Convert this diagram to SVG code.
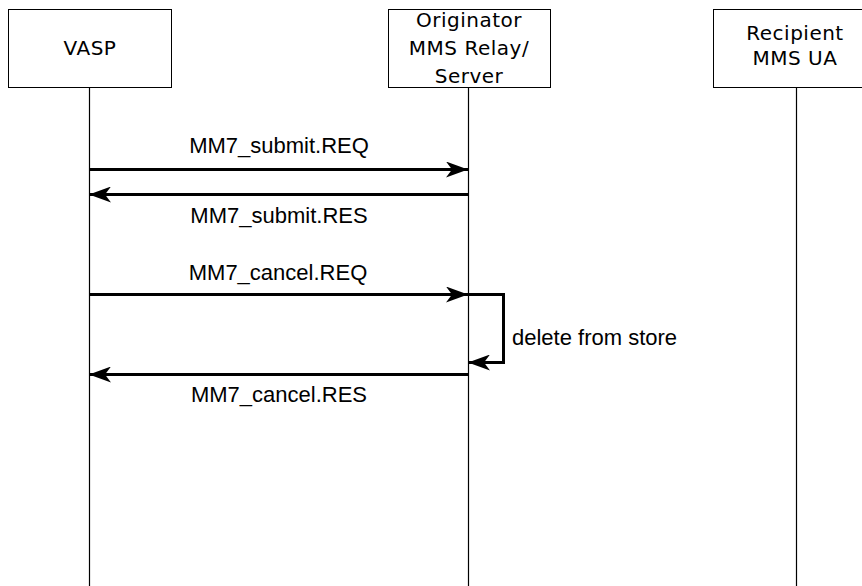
<svg xmlns="http://www.w3.org/2000/svg" width="862" height="586" viewBox="0 0 862 586">
<style>
.box{fill:#fff;stroke:#000;stroke-width:1}
.life{stroke:#000;stroke-width:1.2;fill:none}
.hd{font-family:"DejaVu Sans",sans-serif;font-size:20px;text-anchor:middle;fill:#000;letter-spacing:0.5px}
.msg{stroke:#000;stroke-width:3;fill:none}
.lb{font-family:"Liberation Sans",Arial,sans-serif;font-size:22px;text-anchor:middle;fill:#000}
</style>
<defs>
<marker id="ah" markerWidth="22" markerHeight="16" refX="22" refY="8" orient="auto" markerUnits="userSpaceOnUse">
<path d="M0,0 L22,8 L0,16 L6,8 Z" fill="#000"/>
</marker>
</defs>
<g id="vasp">
<rect class="box" x="8.5" y="9.5" width="163" height="78"/>
<text class="hd" x="90" y="55">VASP</text>
<line class="life" x1="89.5" y1="87.5" x2="89.5" y2="586"/>
</g>
<g id="relay">
<rect class="box" x="388.5" y="9.5" width="162" height="78"/>
<text class="hd" x="469" y="27">Originator</text>
<text class="hd" x="469" y="55">MMS Relay/</text>
<text class="hd" x="469" y="83">Server</text>
<line class="life" x1="468.5" y1="87.5" x2="468.5" y2="586"/>
</g>
<g id="recipient">
<rect class="box" x="713.5" y="9.5" width="170" height="78"/>
<text class="hd" x="795" y="40">Recipient</text>
<text class="hd" x="795" y="65">MMS UA</text>
<line class="life" x1="796.5" y1="87.5" x2="796.5" y2="586"/>
</g>
<g id="connectors">
<line class="msg" x1="89" y1="169.5" x2="468" y2="169.5" marker-end="url(#ah)"/>
<text class="lb" x="279" y="153">MM7_submit.REQ</text>
<line class="msg" x1="468" y1="194.5" x2="89" y2="194.5" marker-end="url(#ah)"/>
<text class="lb" x="279" y="223">MM7_submit.RES</text>
<line class="msg" x1="89" y1="294.5" x2="468" y2="294.5" marker-end="url(#ah)"/>
<text class="lb" x="278" y="280">MM7_cancel.REQ</text>
<polyline class="msg" points="468,294.5 503.5,294.5 503.5,362.5 468,362.5" marker-end="url(#ah)"/>
<text class="lb" x="512" y="345" style="text-anchor:start">delete from store</text>
<line class="msg" x1="468" y1="374.5" x2="89" y2="374.5" marker-end="url(#ah)"/>
<text class="lb" x="279" y="402">MM7_cancel.RES</text>
</g>
</svg>
